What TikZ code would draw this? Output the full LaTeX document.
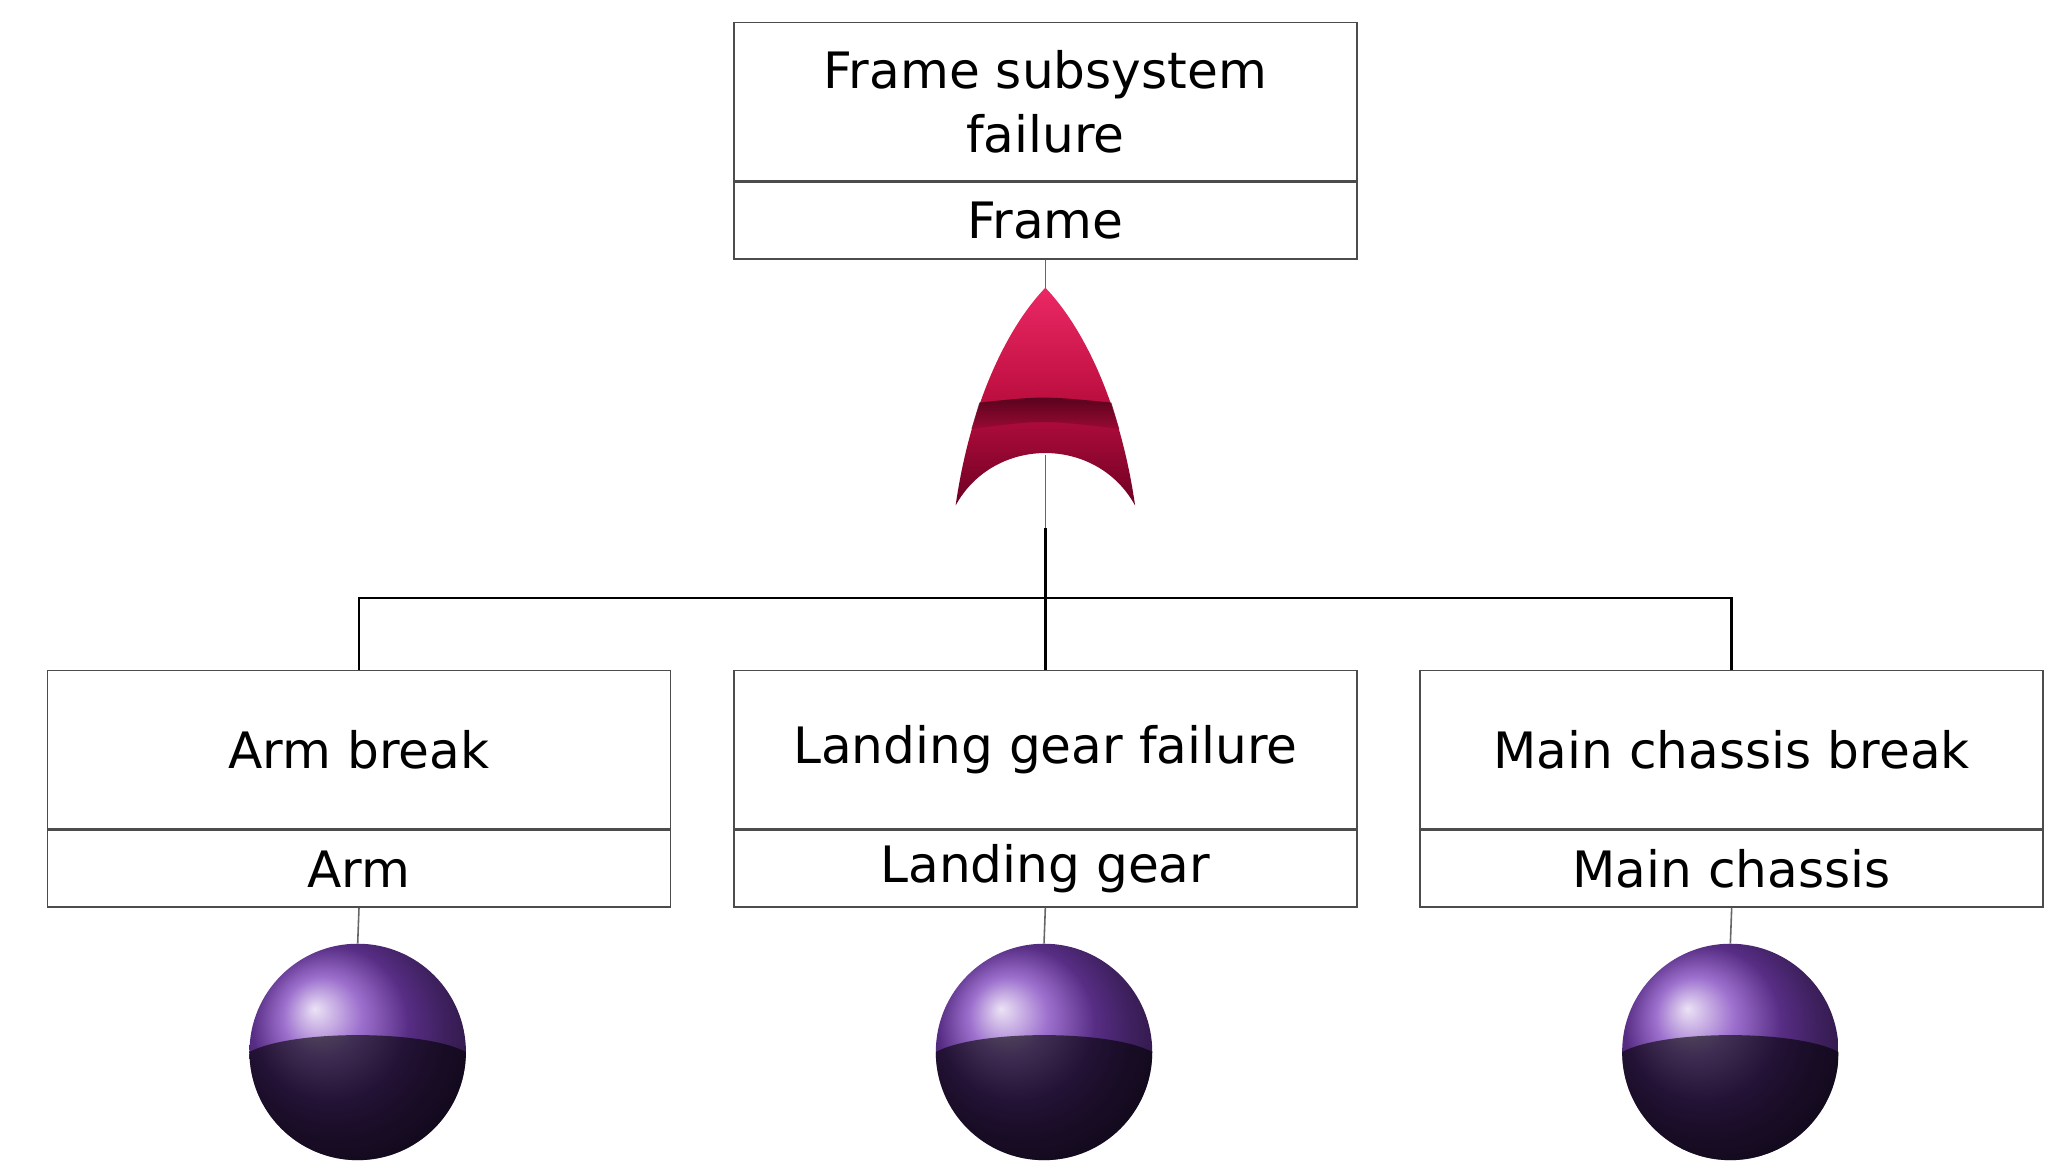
\documentclass[tikz,border=0pt]{standalone}
\usepackage{fontspec}
\setmainfont{DejaVu Sans}
\begin{document}
\begin{tikzpicture}[x=1pt,y=-1pt,
  box/.style={draw=black!70,line width=1.2pt,minimum width=472pt,minimum height=120pt,inner sep=0pt,align=center,font=\fontsize{38}{48}\selectfont},
  lab/.style={draw=black!70,line width=1.2pt,minimum width=472pt,minimum height=58pt,inner sep=0pt,font=\fontsize{38}{48}\selectfont},
  thin/.style={draw=black!60,line width=1.2pt},
  thick/.style={draw=black,line width=2pt},
  ball/.style={ball color={rgb,255:red,125;green,65;blue,190}}]
\useasboundingbox (0,0) rectangle (1560,890);
% top event
\node[box] (top) at (792,77) {Frame subsystem\\failure};
\node[lab,anchor=north] (topl) at (top.south) {Frame};
% gate
\coordinate (gapex) at (792,218);
\coordinate (gbot) at (792,400);
\shade[top color={rgb,255:red,235;green,40;blue,100},bottom color={rgb,255:red,110;green,0;blue,35},middle color={rgb,255:red,190;green,15;blue,65}]
  (724,383) .. controls (736,300) and (766,245) .. (gapex) .. controls (818,245) and (848,300) .. (860,383)
  .. controls (831,330) and (753,330) .. cycle;
\shade[top color={rgb,255:red,60;green,0;blue,20},bottom color={rgb,255:red,150;green,10;blue,50},opacity=0.8]
  (736,325) .. controls (790,318) .. (848,325) -- (842,305) .. controls (790,300) .. (742,305) -- cycle;
\draw[thin] (topl.south) -- (gapex);
\draw[thin] (792,345) -- (792,400);
% children
\node[box] (a) at (272,568) {Arm break};
\node[lab,anchor=north] (al) at (a.south) {Arm};
\node[box] (b) at (792,568) {Landing gear failure};
\node[lab,anchor=north] (bl) at (b.south) {Landing gear};
\node[box] (c) at (1312,568) {Main chassis break};
\node[lab,anchor=north] (cl) at (c.south) {Main chassis};
\coordinate (bar) at (792,453);
\draw[thick] (gbot) -- (bar);
\draw[thick] (a.north) |- (bar) -| (c.north);
\draw[thick] (bar) -- (b.north);
% basic events
\foreach \n/\x in {sa/271,sb/791,sc/1311}{
  \node[circle,minimum size=164pt,inner sep=0pt,ball] (\n) at (\x,797) {};
  \fill[black,opacity=0.6] (\x-82,797) arc[start angle=180,end angle=0,radius=82] .. controls (\x+50,780) and (\x-50,780) .. cycle;
}
\draw[thin] (al.south) -- (sa.north);
\draw[thin] (bl.south) -- (sb.north);
\draw[thin] (cl.south) -- (sc.north);
\end{tikzpicture}
\end{document}
